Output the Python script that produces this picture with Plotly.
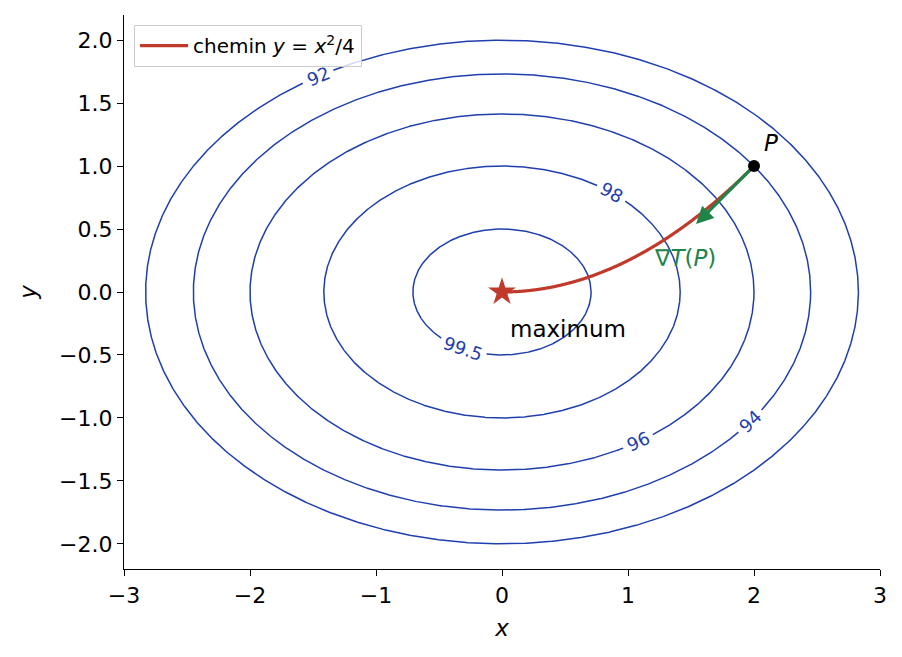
import numpy as np
import plotly.graph_objects as go

# ---- data ----
levels = [92, 94, 96, 98, 99.5]
level_labels = ["92", "94", "96", "98", "99.5"]
label_x = [-1.46, 1.97, 1.08, 0.87, -0.31]
label_side = [1, -1, -1, 1, -1]
T0 = 100.0          # T(x, y) = 100 - x^2 - 2 y^2
cx, cy = 1.0, 2.0   # coefficients of x^2 and y^2
path_x = np.linspace(0, 2, 201).tolist()
P = (2.0, 1.0)
grad_scale = 0.115
x_ticks = [-3, -2, -1, 0, 1, 2, 3]
y_ticks = [-2.0, -1.5, -1.0, -0.5, 0.0, 0.5, 1.0, 1.5, 2.0]

BLUE = "#1f3fae"
RED = "#c0392b"
GREEN = "#1e8449"
FONT = "DejaVu Sans"

# page body has an 8px margin: size the figure to fill the 902x657 window
W, H = 886, 641
ML, MR, MT, MB = 116, 14, 7, 80
XR = (-3, 3)
YR = (-2.2, 2.2)
sx = (W - ML - MR) / (XR[1] - XR[0])
sy = (H - MT - MB) / (YR[1] - YR[0])

fig = go.Figure()
annotations = []

t = np.linspace(0, 2 * np.pi, 1441)
for c, lab, lx, side in zip(levels, level_labels, label_x, label_side):
    a = np.sqrt((T0 - c) / cx)
    b = np.sqrt((T0 - c) / cy)
    ex = a * np.cos(t)
    ey = b * np.sin(t)
    ly = side * np.sqrt((T0 - c - cx * lx ** 2) / cy)
    fs = 18
    width = sum(0.30 if ch == "." else 0.64 for ch in lab) * fs
    r = width / 2 + 4
    d = np.hypot((ex - lx) * sx, (ey - ly) * sy)
    ex = np.where(d < r, np.nan, ex)
    ey = np.where(d < r, np.nan, ey)
    fig.add_trace(go.Scatter(x=ex, y=ey, mode="lines",
                             line=dict(color=BLUE, width=1.5),
                             showlegend=False, hoverinfo="skip",
                             connectgaps=False))
    slope = -(cx * lx) / (cy * ly)
    ang = -np.degrees(np.arctan(slope * sy / sx))
    annotations.append(dict(x=lx, y=ly, text=lab, showarrow=False,
                            textangle=ang, xanchor="center", yanchor="middle",
                            font=dict(family=FONT, size=fs, color=BLUE)))

# path y = x^2/4
path_y = [xx ** 2 / 4 for xx in path_x]
fig.add_trace(go.Scatter(x=path_x, y=path_y, mode="lines",
                         line=dict(color=RED, width=3.2, shape="spline"),
                         name="chemin <i>y</i> = <i>x</i><sup>2</sup>/4"))

# maximum star
fig.add_trace(go.Scatter(x=[0], y=[0], mode="markers",
                         marker=dict(symbol="star", size=21, color=RED,
                                     line=dict(width=0)),
                         showlegend=False))
# point P
fig.add_trace(go.Scatter(x=[P[0]], y=[P[1]], mode="markers",
                         marker=dict(symbol="circle", size=12, color="black"),
                         showlegend=False))

gx, gy = -2 * cx * P[0], -2 * cy * P[1]
annotations.append(dict(x=P[0] + grad_scale * gx, y=P[1] + grad_scale * gy,
                        ax=P[0], ay=P[1], axref="x", ayref="y",
                        xref="x", yref="y", text="", showarrow=True,
                        arrowhead=2, arrowsize=1.15, arrowwidth=3,
                        arrowcolor=GREEN, startstandoff=4, standoff=0))
annotations.append(dict(x=2.135, y=1.18, text="<i>P</i>", showarrow=False,
                        font=dict(family=FONT, size=23, color="black")))
annotations.append(dict(x=1.452, y=0.27, text="∇<i>T</i>(<i>P</i>)",
                        showarrow=False,
                        font=dict(family=FONT, size=23, color=GREEN)))
annotations.append(dict(x=0.048, y=-0.29, text="maximum", showarrow=False,
                        xanchor="left", yanchor="middle",
                        font=dict(family=FONT, size=23, color="black")))

axis_common = dict(showline=True, linecolor="black", linewidth=1.2,
                   ticks="outside", ticklen=6, tickwidth=1.2,
                   tickcolor="black", showgrid=False, zeroline=False,
                   mirror=False, automargin=False,
                   tickfont=dict(family=FONT, size=22, color="black"))

fig.update_layout(
    width=W, height=H,
    margin=dict(l=ML, r=MR, t=MT, b=MB),
    paper_bgcolor="white", plot_bgcolor="white",
    font=dict(family=FONT, color="black"),
    annotations=annotations,
    showlegend=True,
    legend=dict(x=0.013, y=0.982, xanchor="left", yanchor="top",
                bgcolor="rgba(255,255,255,0.8)", bordercolor="#cccccc",
                borderwidth=1.2, itemwidth=48,
                font=dict(family=FONT, size=20, color="black")),
    xaxis=dict(range=list(XR), tickvals=x_ticks,
               title=dict(text="<i>x</i>", standoff=13,
                          font=dict(family=FONT, size=23)),
               **axis_common),
    yaxis=dict(range=list(YR), tickvals=y_ticks, tickformat=".1f",
               title=dict(text="<i>y</i>", standoff=16,
                          font=dict(family=FONT, size=23)),
               **axis_common),
)

fig.write_html("out.html")
